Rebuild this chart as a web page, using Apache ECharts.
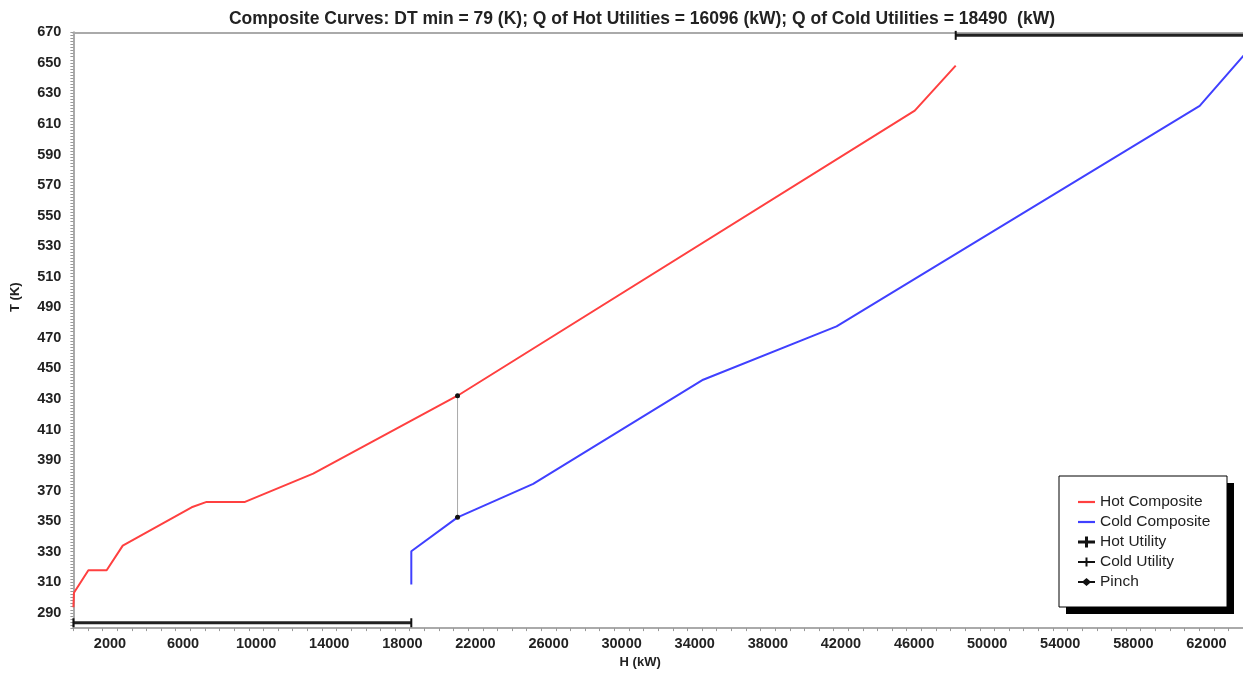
<!DOCTYPE html>
<html>
<head>
<meta charset="utf-8">
<script src="https://cdn.jsdelivr.net/npm/echarts@6/dist/echarts.min.js"></script>
<style>
html,body{margin:0;padding:0;background:#fff;}
#chart{width:1243px;height:674px;}
</style>
</head>
<body>
<div id="chart"></div>
<script>
// ---- data ----
const titleText = 'Composite Curves: DT min = 79 (K); Q of Hot Utilities = 16096 (kW); Q of Cold Utilities = 18490  (kW)';
const hotH  = [0, 30, 820, 1820, 2700, 6470, 7290, 9390, 13120, 21020, 46040, 48280];
const hotT  = [293.7, 303.1, 317.9, 317.9, 334.0, 359.1, 362.6, 362.6, 381.1, 432.1, 618.7, 648.2];
const coldH = [18490, 18490, 21020, 25160, 34460, 41760, 61630, 64376];
const coldT = [308.5, 330.3, 352.5, 374.4, 442.6, 477.5, 621.8, 659.5];
const hotUtilH = [48280, 64376];
const hotUtilT = [668, 668];
const coldUtilH = [0, 18490];
const coldUtilT = [283.5, 283.5];
const pinchH = [21020, 21020];
const pinchT = [432.1, 352.5];
const seriesNames = ['Hot Composite', 'Cold Composite', 'Hot Utility', 'Cold Utility', 'Pinch'];

const zip = (a, b) => a.map((v, i) => [v, b[i]]);
const FONT = 'Liberation Sans, Arial, sans-serif';
const TXT = '#222';

const iconLine = 'path://M0,0 L17,0 L17,2.2 L0,2.2 Z';
const iconCrossBold = 'path://M0,4 L7,4 L7,0 L10,0 L10,4 L17,4 L17,7 L10,7 L10,11 L7,11 L7,7 L0,7 Z';
const iconCross = 'path://M0,4.5 L7.5,4.5 L7.5,1 L9.5,1 L9.5,4.5 L17,4.5 L17,6.5 L9.5,6.5 L9.5,10 L7.5,10 L7.5,6.5 L0,6.5 Z';
const iconPinch = 'path://M0,4.5 L5,4.5 L8.5,1.5 L12,4.5 L17,4.5 L17,6.5 L12,6.5 L8.5,9.5 L5,6.5 L0,6.5 Z';

const chart = echarts.init(document.getElementById('chart'), null, {renderer: 'canvas'});
const option = {
  animation: false,
  backgroundColor: '#fff',
  title: {
    text: titleText,
    left: 642,
    textAlign: 'center',
    top: 10,
    padding: 0,
    textStyle: {fontFamily: FONT, fontSize: 17.5, fontWeight: 'bold', color: TXT}
  },
  graphic: [
    {type: 'rect', left: 1066, top: 483, z: 1, silent: true,
     shape: {width: 168, height: 131}, style: {fill: '#000'}}
  ],
  legend: {
    orient: 'vertical',
    left: 1059,
    top: 476,
    z: 4,
    padding: [18, 2, 17, 19],
    itemWidth: 17,
    itemHeight: 14,
    itemGap: 4,
    backgroundColor: '#fff',
    borderColor: '#000',
    borderWidth: 1,
    borderRadius: 0,
    textStyle: {fontFamily: FONT, fontSize: 15.5, lineHeight: 14, color: TXT, width: 125},
    data: [
      {name: seriesNames[0], icon: iconLine},
      {name: seriesNames[1], icon: iconLine},
      {name: seriesNames[2], icon: iconCrossBold},
      {name: seriesNames[3], icon: iconCross},
      {name: seriesNames[4], icon: iconPinch}
    ]
  },
  grid: {left: 73.4, right: 0, top: 32.3, bottom: 45.4, containLabel: false},
  xAxis: [
    {
      type: 'value', min: 0, max: 64000, interval: 2000, position: 'bottom',
      name: 'H (kW)', nameLocation: 'middle', nameGap: 27,
      nameTextStyle: {fontFamily: FONT, fontSize: 13, fontWeight: 'bold', color: TXT, padding: [0, 36, 0, 0]},
      axisLine: {show: true, lineStyle: {color: '#aaa', width: 2}},
      axisTick: {show: false},
      splitLine: {show: false},
      axisLabel: {
        formatter: v => (v % 4000 === 2000 ? String(v) : ''),
        margin: 8, fontFamily: FONT, fontSize: 14.5, fontWeight: 'bold', color: TXT,
        showMaxLabel: false, showMinLabel: false
      }
    },
    {
      type: 'value', min: 0, max: 64000, interval: 800, position: 'bottom',
      axisLine: {show: false},
      axisTick: {show: true, length: 3, lineStyle: {color: '#999'}},
      axisLabel: {show: false},
      splitLine: {show: false}
    },
    {
      type: 'value', min: 0, max: 64000, position: 'top',
      axisLine: {show: true, lineStyle: {color: '#aaa', width: 2}},
      axisTick: {show: false},
      axisLabel: {show: false},
      splitLine: {show: false}
    }
  ],
  yAxis: [
    {
      type: 'value', min: 280, max: 670, interval: 10, offset: 3,
      name: 'T (K)', nameLocation: 'middle', nameGap: 48, nameRotate: 90,
      nameTextStyle: {fontFamily: FONT, fontSize: 13, fontWeight: 'bold', color: TXT, padding: [0, 0, 0, 66]},
      axisLine: {show: true, lineStyle: {color: '#aaa', width: 2}},
      axisTick: {show: true, length: 3, lineStyle: {color: '#999'}},
      minorTick: {show: true, splitNumber: 5, length: 3, lineStyle: {color: '#999'}},
      splitLine: {show: false},
      axisLabel: {
        formatter: v => ((v - 290) % 20 === 0 ? String(v) : ''),
        margin: 9, fontFamily: FONT, fontSize: 14.5, fontWeight: 'bold', color: TXT
      }
    }
  ],
  series: [
    {
      name: seriesNames[0], type: 'line', data: zip(hotH, hotT),
      showSymbol: false, symbol: 'none', color: '#ff4040',
      lineStyle: {width: 2, color: '#ff4040'}, silent: true
    },
    {
      name: seriesNames[1], type: 'line', data: zip(coldH, coldT),
      showSymbol: false, symbol: 'none', color: '#4040ff',
      lineStyle: {width: 2, color: '#4040ff'}, silent: true
    },
    {
      name: seriesNames[2], type: 'line', data: zip(hotUtilH, hotUtilT),
      symbol: 'rect', symbolSize: [2, 9], showSymbol: true, color: '#111',
      itemStyle: {color: '#111'},
      lineStyle: {width: 3, color: '#222'}, silent: true
    },
    {
      name: seriesNames[3], type: 'line', data: zip(coldUtilH, coldUtilT),
      symbol: 'rect', symbolSize: [2, 9], showSymbol: true, color: '#111',
      itemStyle: {color: '#111'},
      lineStyle: {width: 3, color: '#222'}, silent: true
    },
    {
      name: seriesNames[4], type: 'line', data: zip(pinchH, pinchT),
      symbol: 'circle', symbolSize: 5, showSymbol: true, color: '#111',
      itemStyle: {color: '#111'},
      lineStyle: {width: 1, color: '#aaa'}, silent: true, z: 5
    }
  ]
};
chart.setOption(option);
</script>
</body>
</html>
